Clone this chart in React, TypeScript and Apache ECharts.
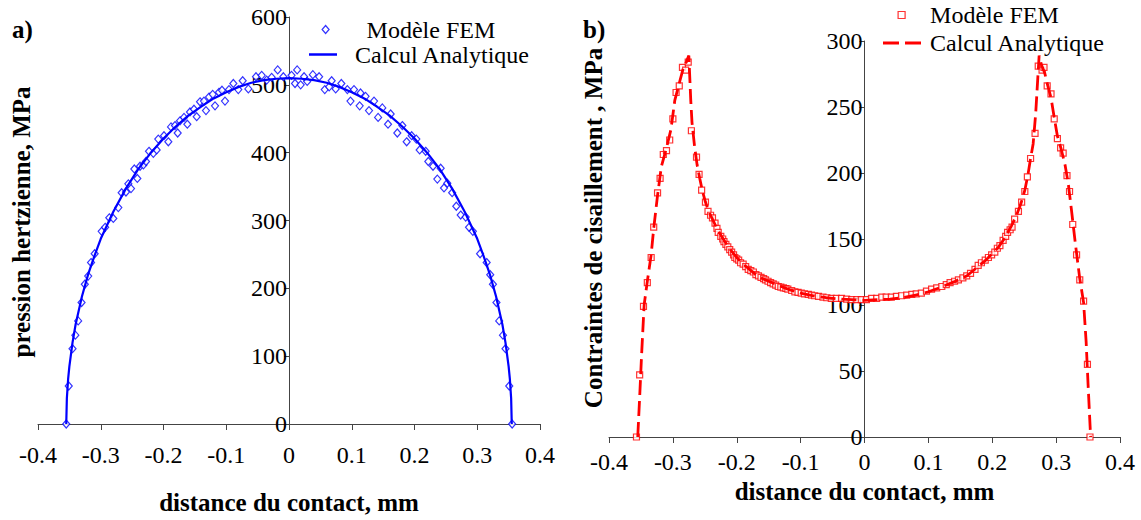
import React, { useEffect, useRef } from "react";
import * as echarts from "echarts";

// ---------- data ----------
const xRange = [-0.4, 0.4];
const xStep = 0.1;
const pressionRange = [0, 600];
const pressionStep = 100;
const cisaillementRange = [0, 300];
const cisaillementStep = 50;

const legendFEM = "Modèle FEM";
const legendAna = "Calcul Analytique";
const titleX = "distance du contact, mm";
const titleYa = "pression hertzienne, MPa";
const titleYb = "Contraintes de cisaillement , MPa";

const pressionFEM: [number, number][] = [
  [-0.355, 0], [-0.351, 56], [-0.345, 111], [-0.3405, 131], [-0.336, 152], [-0.3306, 179], [-0.3254, 206],
  [-0.32, 218], [-0.3155, 238], [-0.3097, 251], [-0.2985, 284], [-0.293, 290], [-0.2864, 304], [-0.28, 303],
  [-0.272, 319], [-0.2667, 341], [-0.2598, 342], [-0.256, 354], [-0.2518, 347], [-0.2465, 376], [-0.2417, 362],
  [-0.2374, 380], [-0.232, 382], [-0.2279, 387], [-0.2231, 402], [-0.2162, 399], [-0.2109, 404], [-0.2083, 420],
  [-0.1992, 425], [-0.1923, 416], [-0.188, 438], [-0.1817, 440], [-0.1774, 429], [-0.1737, 447], [-0.1673, 452],
  [-0.162, 442], [-0.1578, 460], [-0.1514, 464], [-0.1471, 453], [-0.1418, 475], [-0.1355, 476], [-0.1323, 462],
  [-0.1275, 482], [-0.1216, 486], [-0.1179, 469], [-0.1116, 489], [-0.1068, 492], [-0.102, 476], [-0.0956, 493],
  [-0.0887, 502], [-0.0808, 493], [-0.0738, 506], [-0.0648, 494], [-0.0526, 512], [-0.0435, 514], [-0.0356, 507],
  [-0.0276, 511], [-0.018, 522], [-0.009, 512],
  [0.004, 514], [0.0096, 502], [0.013, 522], [0.0186, 500], [0.024, 512], [0.029, 505], [0.038, 515],
  [0.048, 512], [0.057, 493], [0.064, 497], [0.068, 506], [0.0744, 494], [0.0834, 502], [0.093, 493],
  [0.098, 476], [0.1036, 493], [0.1126, 469], [0.114, 488], [0.122, 483], [0.1275, 462], [0.1355, 476],
  [0.142, 452], [0.1487, 466], [0.1578, 442], [0.162, 457], [0.1726, 429], [0.1806, 440], [0.1875, 416],
  [0.1955, 425], [0.2029, 420], [0.2082, 404], [0.2178, 402], [0.222, 387], [0.2295, 380], [0.2364, 361],
  [0.2417, 377], [0.247, 348], [0.2523, 355], [0.26, 341], [0.2666, 321], [0.2736, 308], [0.2816, 305],
  [0.2869, 290], [0.293, 284], [0.3045, 251], [0.315, 238], [0.3207, 220], [0.325, 206], [0.3306, 179],
  [0.335, 152], [0.341, 131], [0.345, 111], [0.351, 56], [0.3556, 0],
];

const pressionAnalytique: [number, number][] = [
  [-0.355, 0], [-0.354, 38], [-0.352, 66], [-0.35, 85], [-0.345, 120], [-0.34, 147], [-0.33, 188],
  [-0.32, 221], [-0.31, 248], [-0.3, 273], [-0.28, 313], [-0.26, 347], [-0.24, 376], [-0.22, 400],
  [-0.2, 421], [-0.18, 439], [-0.16, 455], [-0.14, 468], [-0.12, 480], [-0.1, 489], [-0.08, 497],
  [-0.06, 503], [-0.04, 507], [-0.02, 509], [0, 510], [0.02, 509], [0.04, 507], [0.06, 503], [0.08, 497],
  [0.1, 489], [0.12, 480], [0.14, 468], [0.16, 455], [0.18, 439], [0.2, 421], [0.22, 400], [0.24, 376],
  [0.26, 347], [0.28, 313], [0.3, 273], [0.31, 248], [0.32, 221], [0.33, 188], [0.34, 147], [0.345, 120],
  [0.35, 85], [0.352, 66], [0.354, 38], [0.355, 0],
];

const cisaillementFEM: [number, number][] = [
  [-0.357, 0], [-0.352, 47], [-0.346, 99], [-0.34, 117], [-0.334, 136], [-0.33, 159], [-0.324, 185],
  [-0.32, 196], [-0.315, 214], [-0.31, 217], [-0.305, 225], [-0.3, 241], [-0.295, 261], [-0.29, 266],
  [-0.285, 280], [-0.28, 278], [-0.276, 284], [-0.271, 232], [-0.263, 212], [-0.259, 199], [-0.255, 187],
  [-0.249, 178], [-0.245, 171], [-0.241, 168], [-0.238, 166], [-0.234, 162], [-0.231, 158], [-0.229, 155],
  [-0.225, 152], [-0.222, 150], [-0.22, 148], [-0.217, 146], [-0.214, 144], [-0.211, 142], [-0.208, 140],
  [-0.205, 138], [-0.203, 136], [-0.2, 135], [-0.197, 134], [-0.194, 132], [-0.19, 131], [-0.186, 129],
  [-0.182, 127], [-0.178, 126], [-0.174, 125], [-0.17, 123], [-0.166, 122], [-0.162, 121], [-0.158, 120],
  [-0.155, 119], [-0.151, 118], [-0.147, 117], [-0.143, 116], [-0.139, 115], [-0.135, 114], [-0.131, 113.5],
  [-0.127, 113], [-0.123, 112.5], [-0.12, 112], [-0.114, 111], [-0.109, 110], [-0.104, 109.5], [-0.099, 109],
  [-0.094, 108.5], [-0.088, 108], [-0.083, 107.5], [-0.078, 107], [-0.072, 106.5], [-0.065, 106], [-0.059, 105.5],
  [-0.052, 105], [-0.044, 105], [-0.036, 105], [-0.028, 104.5], [-0.02, 104], [-0.012, 104], [-0.005, 104],
  [0.003, 104], [0.011, 105], [0.019, 105], [0.027, 106], [0.034, 106], [0.042, 106], [0.05, 106.5],
  [0.058, 107], [0.066, 107.5], [0.074, 108], [0.081, 108.5], [0.089, 109], [0.097, 110.5], [0.105, 112],
  [0.113, 113], [0.121, 114], [0.128, 115.5], [0.134, 117], [0.141, 118], [0.147, 119], [0.154, 120.5],
  [0.16, 122], [0.166, 124], [0.173, 127], [0.178, 130], [0.183, 132], [0.189, 134], [0.194, 136],
  [0.199, 138], [0.204, 140], [0.208, 143], [0.212, 145], [0.217, 149], [0.221, 152], [0.224, 155],
  [0.228, 157], [0.231, 159], [0.235, 165], [0.241, 171], [0.246, 178], [0.251, 186], [0.255, 197],
  [0.26, 211], [0.267, 230], [0.272, 281], [0.278, 278], [0.281, 280], [0.286, 266], [0.292, 260],
  [0.297, 241], [0.302, 226], [0.307, 219], [0.311, 215], [0.317, 198], [0.321, 186], [0.326, 161],
  [0.332, 138], [0.337, 119], [0.343, 103], [0.349, 55], [0.353, 0],
];

const cisaillementAnalytique: [number, number][] = [
  [-0.355, 0], [-0.352, 30], [-0.349, 62], [-0.345, 100], [-0.34, 118], [-0.334, 138], [-0.33, 158],
  [-0.324, 183], [-0.318, 205], [-0.31, 219], [-0.303, 233], [-0.297, 255], [-0.29, 268], [-0.284, 279],
  [-0.279, 284], [-0.275, 289], [-0.272, 255], [-0.27, 238], [-0.266, 220], [-0.262, 206], [-0.258, 196],
  [-0.254, 187], [-0.249, 178], [-0.244, 171], [-0.238, 165], [-0.23, 157], [-0.22, 149], [-0.21, 142],
  [-0.2, 136], [-0.19, 131], [-0.18, 127], [-0.17, 123], [-0.16, 120], [-0.14, 116], [-0.12, 112],
  [-0.1, 109], [-0.08, 107], [-0.06, 105.5], [-0.04, 104.5], [-0.02, 104], [0, 103.5],
  [0.02, 104], [0.04, 104.5], [0.06, 105.5], [0.08, 107.5], [0.1, 110], [0.12, 113.5], [0.14, 117.5],
  [0.16, 122], [0.175, 128], [0.19, 134], [0.2, 139], [0.21, 144], [0.22, 151], [0.23, 160], [0.238, 168],
  [0.245, 177], [0.251, 187], [0.256, 199], [0.26, 211], [0.264, 222], [0.268, 245], [0.2734, 289],
  [0.277, 282], [0.282, 276], [0.287, 266], [0.292, 257], [0.297, 242], [0.302, 228], [0.308, 218],
  [0.314, 206], [0.319, 192], [0.324, 172], [0.33, 147], [0.337, 120], [0.343, 102], [0.347, 72],
  [0.35, 40], [0.354, 0],
];

// ---------- styling ----------
const SERIF = '"Liberation Serif", "Times New Roman", serif';
const BLUE = "#0000FF";
const RED = "#FF0000";
const AXIS = "#444";

const gridA = { left: 38, top: 17, width: 502, height: 416 };
const gridB = { left: 609, top: 41, width: 511, height: 396 };

function xAxisFor(grid: number, nameGap: number, labelMargin: number) {
  return {
    gridIndex: grid,
    type: "value",
    min: xRange[0],
    max: xRange[1],
    interval: xStep,
    axisLine: { show: true, onZero: false, lineStyle: { color: AXIS, width: 1 } },
    axisTick: { show: true, length: 6, lineStyle: { color: AXIS } },
    axisLabel: { color: "#000", fontSize: 24, fontFamily: SERIF, margin: labelMargin },
    splitLine: { show: false },
    name: titleX,
    nameLocation: "middle",
    nameGap,
    nameTextStyle: { color: "#000", fontSize: 25, fontWeight: "bold", fontFamily: SERIF },
  };
}

// y axis drawn at x = 0, i.e. in the middle of the grid (x range is symmetric)
function yAxisFor(grid: number, range: number[], step: number, padTop: number, gridWidth: number) {
  return {
    gridIndex: grid,
    type: "value",
    position: "left",
    offset: -gridWidth / 2,
    min: range[0],
    max: range[1],
    interval: step,
    axisLine: { show: true, onZero: false, lineStyle: { color: AXIS, width: 1 } },
    axisTick: { show: true, length: 5, lineStyle: { color: AXIS } },
    axisLabel: { color: "#000", fontSize: 24, fontFamily: SERIF, margin: 2, padding: [padTop, 0, 0, 0] },
    splitLine: { show: false },
  };
}

function legendFor(name: string, text: string, icon: string, left: number, top: number, itemWidth: number,
  itemHeight: number, itemStyle: any, padLeft: number) {
  return {
    show: true,
    data: [{ name, icon }],
    left,
    top,
    padding: 0,
    itemWidth,
    itemHeight,
    selectedMode: false,
    formatter: () => text,
    itemStyle,
    textStyle: { color: "#000", fontSize: 24, fontFamily: SERIF, lineHeight: 22, padding: [0, 0, 0, padLeft] },
  };
}

export default function App() {
  const ref = useRef<HTMLDivElement>(null);

  useEffect(() => {
    document.body.style.margin = "0";
    if (!ref.current) return;
    const chart = echarts.init(ref.current, undefined, { renderer: "svg" });
    const option: any = {
      animation: false,
      backgroundColor: "#fff",
      textStyle: { fontFamily: SERIF },
      grid: [
        { ...gridA, containLabel: false },
        { ...gridB, containLabel: false },
      ],
      xAxis: [xAxisFor(0, 66, 19), xAxisFor(1, 36, 13)],
      yAxis: [
        yAxisFor(0, pressionRange, pressionStep, 16, gridA.width),
        yAxisFor(1, cisaillementRange, cisaillementStep, 10, gridB.width),
      ],
      legend: [
        legendFor("femA", legendFEM, "path://M3.5,0L7,4L3.5,8L0,4Z", 321.5, 17.5, 72, 8,
          { color: "#fff", borderColor: BLUE, borderWidth: 1.2 }, 0),
        legendFor("anaA", legendAna, "rect", 309, 42.5, 28, 2.5,
          { color: BLUE, borderWidth: 0 }, 13),
        legendFor("femB", legendFEM, "path://M0,0H7V7H0Z", 897.5, 3, 47, 7,
          { color: "#fff", borderColor: RED, borderWidth: 1.2 }, 0),
        legendFor("anaB", legendAna, "path://M0,0H16V3H0Z M22,0H38V3H22Z", 883, 31, 38, 3,
          { color: RED, borderWidth: 0 }, 4),
      ],
      series: [
        {
          name: "femA", type: "scatter", xAxisIndex: 0, yAxisIndex: 0, data: pressionFEM,
          symbol: "diamond", symbolSize: [7, 8],
          itemStyle: { color: "#fff", borderColor: BLUE, borderWidth: 1.2 }, z: 2,
        },
        {
          name: "anaA", type: "line", xAxisIndex: 0, yAxisIndex: 0, data: pressionAnalytique,
          showSymbol: false, symbol: "none", smooth: false,
          lineStyle: { color: BLUE, width: 2.2 }, itemStyle: { color: BLUE }, z: 3,
        },
        {
          name: "femB", type: "scatter", xAxisIndex: 1, yAxisIndex: 1, data: cisaillementFEM,
          symbol: "rect", symbolSize: 6,
          itemStyle: { color: "#fff", borderColor: RED, borderWidth: 1.2 }, z: 2,
        },
        {
          name: "anaB", type: "line", xAxisIndex: 1, yAxisIndex: 1, data: cisaillementAnalytique,
          showSymbol: false, symbol: "none", smooth: false,
          lineStyle: { color: RED, width: 2.8, type: [15, 6] }, itemStyle: { color: RED }, z: 3,
        },
      ],
      graphic: [
        { type: "text", x: 12, y: 29, style: { text: "a)", font: `bold 25px ${SERIF}`, fill: "#000", verticalAlign: "middle" } },
        { type: "text", x: 583, y: 29, style: { text: "b)", font: `bold 25px ${SERIF}`, fill: "#000", verticalAlign: "middle" } },
        {
          type: "text", x: 21, y: 222, rotation: Math.PI / 2,
          style: { text: titleYa, font: `bold 25px ${SERIF}`, fill: "#000", align: "center", verticalAlign: "middle" },
        },
        {
          type: "text", x: 593, y: 228, rotation: Math.PI / 2,
          style: { text: titleYb, font: `bold 25px ${SERIF}`, fill: "#000", align: "center", verticalAlign: "middle" },
        },
      ],
    };
    chart.setOption(option);
    return () => chart.dispose();
  }, []);

  return <div ref={ref} style={{ width: 1141, height: 520 }} />;
}
